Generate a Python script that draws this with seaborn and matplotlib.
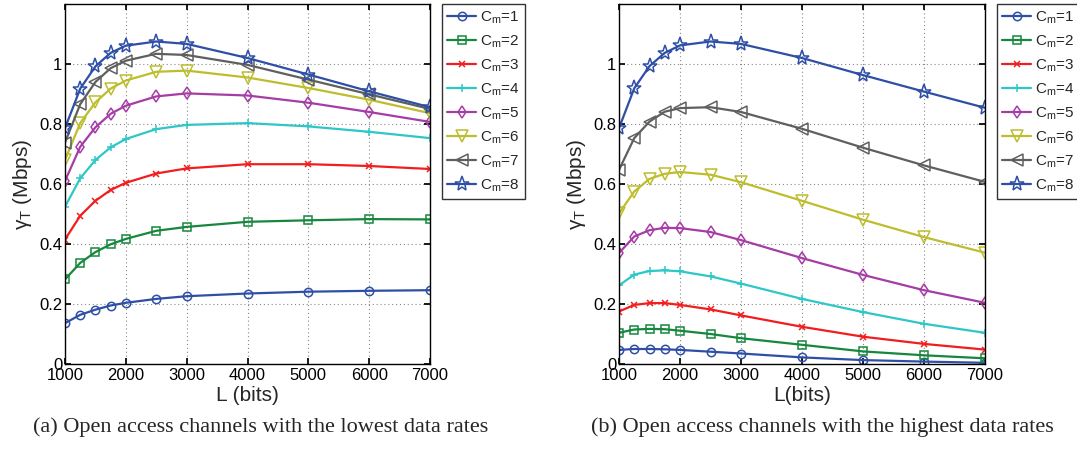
import numpy as np
import pandas as pd
import matplotlib
matplotlib.use("Agg")
import matplotlib.pyplot as plt
import seaborn as sns

L_bits = [1000, 1250, 1500, 1750, 2000, 2500, 3000, 4000, 5000, 6000, 7000]
labels = ["1", "2", "3", "4", "5", "6", "7", "8"]

low_cm1 = [0.136, 0.164, 0.181, 0.195, 0.204, 0.217, 0.226, 0.235, 0.241, 0.244, 0.246]
low_cm2 = [0.282, 0.337, 0.373, 0.399, 0.417, 0.444, 0.457, 0.474, 0.479, 0.483, 0.482]
low_cm3 = [0.415, 0.494, 0.544, 0.580, 0.604, 0.635, 0.652, 0.666, 0.666, 0.660, 0.650]
low_cm4 = [0.524, 0.619, 0.680, 0.722, 0.750, 0.783, 0.797, 0.803, 0.792, 0.774, 0.753]
low_cm5 = [0.610, 0.724, 0.789, 0.834, 0.861, 0.892, 0.902, 0.895, 0.871, 0.840, 0.807]
low_cm6 = [0.680, 0.803, 0.872, 0.918, 0.945, 0.974, 0.978, 0.955, 0.920, 0.881, 0.836]
low_cm7 = [0.738, 0.866, 0.940, 0.986, 1.011, 1.034, 1.030, 0.997, 0.948, 0.899, 0.850]
low_cm8 = [0.786, 0.918, 0.992, 1.037, 1.061, 1.075, 1.067, 1.020, 0.965, 0.909, 0.856]

high_cm1 = [0.047, 0.050, 0.050, 0.049, 0.047, 0.041, 0.035, 0.022, 0.013, 0.008, 0.004]
high_cm2 = [0.104, 0.115, 0.117, 0.116, 0.111, 0.100, 0.086, 0.064, 0.042, 0.029, 0.019]
high_cm3 = [0.175, 0.197, 0.203, 0.203, 0.197, 0.182, 0.162, 0.124, 0.091, 0.067, 0.048]
high_cm4 = [0.262, 0.298, 0.310, 0.312, 0.309, 0.292, 0.268, 0.217, 0.173, 0.134, 0.104]
high_cm5 = [0.370, 0.425, 0.446, 0.454, 0.453, 0.440, 0.413, 0.353, 0.297, 0.246, 0.204]
high_cm6 = [0.502, 0.575, 0.617, 0.634, 0.640, 0.631, 0.606, 0.544, 0.481, 0.423, 0.371]
high_cm7 = [0.647, 0.753, 0.808, 0.841, 0.853, 0.856, 0.840, 0.784, 0.721, 0.662, 0.607]
high_cm8 = [0.786, 0.919, 0.993, 1.037, 1.062, 1.075, 1.067, 1.020, 0.963, 0.908, 0.854]

low = [low_cm1, low_cm2, low_cm3, low_cm4, low_cm5, low_cm6, low_cm7, low_cm8]
high = [high_cm1, high_cm2, high_cm3, high_cm4, high_cm5, high_cm6, high_cm7, high_cm8]

colors = ["#2F4FA6", "#16873D", "#F01E1E", "#2EC7C7", "#A63CA6", "#BDBD2E", "#5F5F5F", "#2F4FA6"]
markers = ["o", "s", "x", "+", "d", "v", "<", "*"]
msizes = [6, 5.5, 4.5, 6, 6, 8, 8, 11]

sns.set_theme(style="white")
plt.rcParams["font.family"] = ["Liberation Sans", "DejaVu Sans"]
plt.rcParams["mathtext.default"] = "regular"

fig = plt.figure(figsize=(10.77, 4.58), dpi=100)
axL = fig.add_axes([65/1077, 94/458, 365/1077, 360/458])
axR = fig.add_axes([619/1077, 94/458, 366/1077, 360/458])


def draw(ax, series, xlabel):
    rows = []
    for lab, vals in zip(labels, series):
        for x, y in zip(L_bits, vals):
            rows.append({"L": x, "y": y, "Cm": lab})
    df = pd.DataFrame(rows)
    handles = []
    for i, lab in enumerate(labels):
        sub = df[df["Cm"] == lab]
        sns.lineplot(data=sub, x="L", y="y", ax=ax, color=colors[i], marker=markers[i],
                     markersize=msizes[i], markerfacecolor="none" if markers[i] not in ("x", "+") else colors[i],
                     markeredgecolor=colors[i], markeredgewidth=1.1, linewidth=1.6, legend=False)
        handles.append(ax.lines[-1])
    ax.set_xlim(1000, 7000)
    ax.set_ylim(0, 1.2)
    ax.set_xticks([1000, 2000, 3000, 4000, 5000, 6000, 7000])
    ax.set_yticks([0, 0.2, 0.4, 0.6, 0.8, 1.0])
    ax.set_yticklabels(["0", "0.2", "0.4", "0.6", "0.8", "1"])
    ax.grid(True, color="#888888", linestyle=(0, (1, 2.5)), linewidth=0.8)
    for s in ax.spines.values():
        s.set_color("black")
        s.set_linewidth(1.0)
    ax.tick_params(direction="in", length=4, labelsize=12, colors="black", top=True, right=True,
                   bottom=True, left=True, pad=2)
    ax.tick_params(axis="x", pad=3)
    ax.set_xlabel(xlabel, fontsize=15, labelpad=2)
    ax.set_ylabel(r"$\gamma_T$ (Mbps)", fontsize=15, labelpad=4)
    return handles


hL = draw(axL, low, "L (bits)")
hR = draw(axR, high, "L(bits)")

leg_labels = [r"$C_m$=" + l for l in labels]
for handles, xa in ((hL, 442/1077), (hR, 997/1077)):
    lg = fig.legend(handles, leg_labels, loc="upper left", bbox_to_anchor=(xa, 1 - 4/458),
                    frameon=True, fancybox=False, edgecolor="black", fontsize=11,
                    handlelength=1.9, labelspacing=0.5, borderpad=0.35, handletextpad=0.25,
                    borderaxespad=0)
    lg.get_frame().set_linewidth(1.0)

fig.text(261/1077, 1 - 427/458, "(a) Open access channels with the lowest data rates",
         family=["Liberation Serif", "DejaVu Serif"], fontsize=16, ha="center", va="center")
fig.text(822/1077, 1 - 427/458, "(b) Open access channels with the highest data rates",
         family=["Liberation Serif", "DejaVu Serif"], fontsize=16, ha="center", va="center")

fig.savefig("out.png", dpi=100)
